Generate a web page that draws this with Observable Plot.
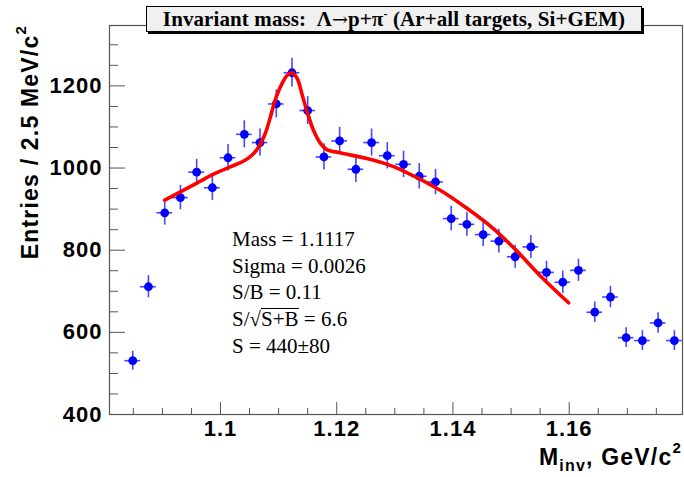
<!DOCTYPE html>
<html>
<head>
<meta charset="utf-8">
<script src="https://cdn.jsdelivr.net/npm/d3@7"></script>
<script src="https://cdn.jsdelivr.net/npm/@observablehq/plot@0.6"></script>
<style>
  body { margin: 0; background: #fff; }
  #wrap { position: relative; width: 684px; height: 477px; overflow: hidden; }
  #wrap svg { position: absolute; left: 0; top: 0; }
  .ann { position: absolute; white-space: nowrap; color: #000; }
  #title { left: 146px; top: 6px; width: 496px; height: 26px; background: #f0f0f0; border: 1px solid #000;
           box-sizing: border-box; box-shadow: 2px 2px 0 #000; font-family: "Liberation Serif", "Times New Roman", serif;
           font-weight: bold; font-size: 21px; line-height: 24px; text-align: center; letter-spacing: 0.1px; }
  .arrow { font-family: "DejaVu Serif", serif; font-weight: normal; font-size: 19px; }
  #stats { left: 232px; top: 226px; font-family: "Liberation Serif", "Times New Roman", serif; font-size: 21px; line-height: 26.7px; }
  .ov { border-top: 1px solid #000; display: inline-block; line-height: 21px; }
  #ytitle { left: 31px; top: 25px; transform-origin: 0 0; transform: rotate(-90deg) translate(-100%, -50%);
            font-family: "Liberation Sans", Arial, sans-serif; font-weight: bold; font-size: 23px; letter-spacing: 1.2px; line-height: 26px; }
  #xtitle { right: 2px; top: 446px; font-family: "Liberation Sans", Arial, sans-serif; font-weight: bold; font-size: 23px; letter-spacing: 1.2px; line-height: 23px; }
  .sup { font-size: 15px; position: relative; top: -12px; }
  .sub { font-size: 16px; position: relative; top: 6px; }
  .tsup { font-size: 12px; position: relative; top: -8px; }
</style>
</head>
<body>
<div id="wrap">
  <div id="chart"></div>
  <div class="ann" id="title">Invariant mass:&nbsp;&nbsp;Λ<span class="arrow">→</span>p+π<span class="tsup">-</span> (Ar+all targets, Si+GEM)</div>
  <div class="ann" id="stats">
    Mass = 1.1117<br>
    Sigma = 0.0026<br>
    S/B = 0.11<br>
    S/√<span class="ov">S+B</span> = 6.6<br>
    S = 440±80
  </div>
  <div class="ann" id="ytitle">Entries / 2.5 MeV/c<span class="sup">2</span></div>
  <div class="ann" id="xtitle">M<span class="sub">inv</span>, GeV/c<span class="sup">2</span></div>
</div>
<script>
// Histogram points (bin centre, entries, vertical error)
const massX = [1.0849, 1.0876, 1.0904, 1.0931, 1.0959, 1.0986, 1.1013, 1.1041, 1.1068, 1.1096,
               1.1123, 1.1150, 1.1178, 1.1205, 1.1233, 1.1260, 1.1287, 1.1315, 1.1342, 1.1370,
               1.1397, 1.1424, 1.1452, 1.1479, 1.1507, 1.1534, 1.1561, 1.1589, 1.1616, 1.1644,
               1.1671, 1.1698, 1.1726, 1.1753, 1.1781];
const entries = [531, 711, 891, 928, 990, 952, 1025, 1082, 1062, 1156,
                 1232, 1140, 1027, 1066, 997, 1062, 1030, 1009, 980, 966,
                 877, 863, 838, 822, 784, 808, 746, 722, 751, 649,
                 686, 587, 580, 623, 580];
const errors = [23, 27, 30, 30, 31, 31, 32, 33, 33, 34,
                35, 34, 32, 33, 32, 33, 32, 32, 31, 31,
                30, 29, 29, 29, 28, 28, 27, 27, 27, 25,
                26, 24, 24, 25, 24];
const halfBin = 0.00135;

// Fit curve
const fitX = [1.0904, 1.0931, 1.0960, 1.0988, 1.1017, 1.1040, 1.1054, 1.1066, 1.1077, 1.1086,
              1.1094, 1.1106, 1.1115, 1.1123, 1.1132, 1.1140, 1.1149, 1.1160, 1.1172, 1.1183,
              1.1206, 1.1252, 1.1287, 1.1309, 1.1378, 1.1424, 1.1470, 1.1510, 1.1550, 1.1599];
const fitY = [922, 942, 964, 985, 1003, 1017, 1031, 1052, 1084, 1125,
              1165, 1206, 1226, 1232, 1218, 1181, 1137, 1092, 1060, 1045,
              1037, 1023, 1009, 997, 946, 902, 852, 798, 738, 672];

// Axes
const xMajor = [1.10, 1.12, 1.14, 1.16];
const xMajorLabels = ["1.1", "1.12", "1.14", "1.16"];
const xMinor = [1.085, 1.09, 1.095, 1.105, 1.11, 1.115, 1.125, 1.13, 1.135, 1.145, 1.15, 1.155, 1.165, 1.17, 1.175];
const yMajor = [400, 600, 800, 1000, 1200];
const yMinor = [450, 500, 550, 650, 700, 750, 850, 900, 950, 1050, 1100, 1150, 1250, 1300];

const points = massX.map((x, i) => ({x, y: entries[i], e: errors[i]}));
const fit = fitX.map((x, i) => ({x, y: fitY[i]}));

const tickColor = "#555";
const chart = Plot.plot({
  width: 684,
  height: 477,
  marginLeft: 109,
  marginRight: 2,
  marginTop: 25,
  marginBottom: 63,
  x: {domain: [1.0809, 1.1795]},
  y: {domain: [400, 1347]},
  style: {fontFamily: "'Liberation Sans', Arial, sans-serif", fontSize: "22px", fontWeight: "bold", letterSpacing: "1px", color: "#000", background: "#fff"},
  marks: [
    Plot.frame({stroke: tickColor, strokeWidth: 1.2}),
    Plot.axisY({ticks: yMajor, tickSize: 0, tickPadding: 7, tickFormat: d => String(d), label: null, fill: "#000"}),
    Plot.axisY({ticks: yMajor, tickSize: -16, tickFormat: () => "", label: null, stroke: tickColor}),
    Plot.axisY({ticks: yMinor, tickSize: -9, tickFormat: () => "", label: null, stroke: tickColor}),
    Plot.axisX({ticks: xMajor, tickSize: 0, tickPadding: 6, tickFormat: (d, i) => xMajorLabels[i], label: null, fill: "#000"}),
    Plot.axisX({ticks: xMajor, tickSize: -12, tickFormat: () => "", label: null, stroke: tickColor}),
    Plot.axisX({ticks: xMinor, tickSize: -6, tickFormat: () => "", label: null, stroke: tickColor}),
    Plot.ruleY(points, {y: "y", x1: d => d.x - halfBin, x2: d => d.x + halfBin, stroke: "#4646ff", strokeWidth: 1.6}),
    Plot.ruleX(points, {x: "x", y1: d => d.y - d.e, y2: d => d.y + d.e, stroke: "#4646ff", strokeWidth: 1.6}),
    Plot.dot(points, {x: "x", y: "y", r: 4.4, fill: "#0000ff", stroke: "none"}),
    Plot.line(fit, {x: "x", y: "y", stroke: "#ff0000", strokeWidth: 3.6, curve: "catmull-rom"})
  ]
});
document.getElementById("chart").appendChild(chart);
</script>
</body>
</html>
